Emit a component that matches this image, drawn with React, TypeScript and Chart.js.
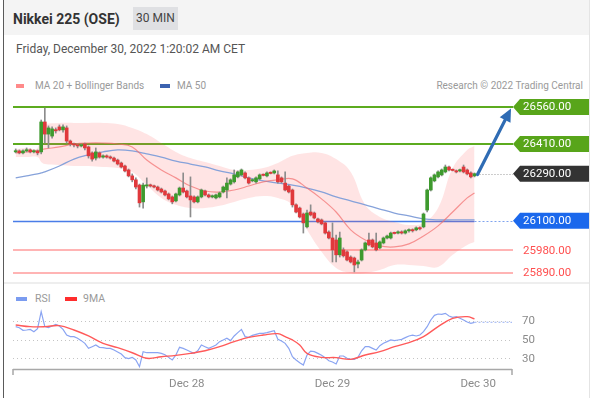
import React, { useEffect, useRef } from "react";
import { Chart, registerables } from "chart.js";
Chart.register(...registerables);

const FONT = "Roboto, 'Liberation Sans', Arial, sans-serif";

// ---- candles (30 min) ----
const opens = [
  26378, 26382, 26374, 26382, 26386, 26378, 26382, 26378, 26499, 26450,
  26442, 26467, 26479, 26467, 26475, 26422, 26410, 26406, 26402, 26410,
  26398, 26374, 26353, 26374, 26357, 26362, 26357, 26353, 26345, 26333,
  26321, 26305, 26281, 26265, 26244, 26176, 26240, 26244, 26240, 26236,
  26228, 26220, 26208, 26196, 26180, 26204, 26232, 26220, 26200, 26196,
  26176, 26196, 26220, 26204, 26196, 26192, 26196, 26216, 26224, 26248,
  26257, 26277, 26285, 26293, 26273, 26261, 26257, 26269, 26285, 26281,
  26293, 26293, 26285, 26273, 26252, 26240, 26224, 26164, 26151, 26127,
  26075, 26135, 26131, 26107, 26103, 26091, 26054, 26030, 26022, 25962,
  25982, 25974, 25953, 25949, 25925, 25941, 25982, 26022, 26022, 26010,
  25990, 26010, 26030, 26030, 26050, 26050, 26054, 26050, 26059, 26063,
  26063, 26071, 26075, 26143, 26224, 26261, 26277, 26285, 26297, 26317,
  26305, 26301, 26301, 26317, 26305, 26293, 26281,
];
const closes = [
  26382, 26374, 26382, 26386, 26378, 26382, 26374, 26499, 26450, 26475,
  26471, 26463, 26467, 26479, 26422, 26410, 26406, 26402, 26406, 26394,
  26362, 26349, 26378, 26357, 26362, 26357, 26353, 26341, 26329, 26317,
  26301, 26281, 26265, 26236, 26172, 26244, 26244, 26240, 26236, 26224,
  26216, 26204, 26188, 26176, 26208, 26232, 26216, 26196, 26184, 26176,
  26196, 26224, 26204, 26196, 26200, 26204, 26212, 26236, 26252, 26265,
  26285, 26297, 26305, 26273, 26252, 26265, 26273, 26285, 26283, 26293,
  26291, 26301, 26257, 26257, 26224, 26216, 26164, 26135, 26115, 26091,
  26131, 26123, 26111, 26095, 26087, 26050, 26030, 25982, 25962, 26030,
  25958, 25941, 25933, 25921, 25933, 25982, 26010, 26002, 25994, 25982,
  26014, 26030, 26038, 26050, 26048, 26054, 26050, 26059, 26063, 26059,
  26071, 26067, 26127, 26224, 26273, 26285, 26297, 26305, 26317, 26305,
  26303, 26297, 26305, 26297, 26289, 26277, 26290,
];
const highs = [
  26390, 26386, 26386, 26394, 26390, 26386, 26386, 26507, 26555, 26483,
  26479, 26475, 26487, 26487, 26483, 26426, 26414, 26410, 26410, 26414,
  26402, 26378, 26394, 26378, 26366, 26366, 26362, 26357, 26349, 26337,
  26325, 26309, 26289, 26273, 26248, 26252, 26273, 26248, 26244, 26240,
  26232, 26224, 26212, 26200, 26212, 26236, 26293, 26224, 26277, 26200,
  26200, 26228, 26224, 26208, 26204, 26208, 26216, 26240, 26273, 26269,
  26305, 26301, 26309, 26297, 26277, 26269, 26277, 26289, 26289, 26297,
  26297, 26305, 26301, 26277, 26297, 26244, 26228, 26168, 26155, 26131,
  26143, 26164, 26135, 26111, 26107, 26095, 26059, 26091, 26042, 26054,
  25990, 25978, 25958, 25953, 25941, 25986, 26014, 26050, 26026, 26050,
  26018, 26034, 26042, 26054, 26054, 26059, 26059, 26063, 26067, 26067,
  26075, 26075, 26131, 26228, 26277, 26289, 26301, 26309, 26325, 26321,
  26309, 26305, 26309, 26325, 26309, 26297, 26293,
];
const lows = [
  26374, 26370, 26370, 26378, 26374, 26374, 26366, 26370, 26414, 26394,
  26434, 26454, 26463, 26458, 26414, 26402, 26398, 26394, 26398, 26386,
  26353, 26341, 26345, 26353, 26353, 26353, 26349, 26337, 26325, 26313,
  26297, 26277, 26257, 26228, 26155, 26151, 26232, 26236, 26232, 26220,
  26212, 26200, 26184, 26168, 26176, 26200, 26212, 26192, 26115, 26172,
  26172, 26192, 26200, 26192, 26192, 26188, 26192, 26212, 26192, 26244,
  26252, 26273, 26281, 26269, 26248, 26257, 26252, 26265, 26281, 26277,
  26289, 26289, 26252, 26252, 26220, 26212, 26155, 26131, 26111, 26050,
  26071, 26119, 26107, 26091, 26083, 26046, 26026, 25933, 25933, 25953,
  25953, 25937, 25929, 25893, 25909, 25937, 25978, 25998, 25990, 25978,
  25986, 26006, 26026, 26026, 26046, 26046, 26046, 26046, 26054, 26054,
  26059, 26063, 26071, 26135, 26220, 26257, 26273, 26281, 26293, 26301,
  26301, 26293, 26297, 26293, 26285, 26273, 26277,
];

// ---- indicators (sampled at candle indices) ----
const bandIdx = [0, 3, 6, 7, 8, 12, 16, 20, 24, 28, 32, 36, 40, 44, 48, 52, 56, 60, 64, 68, 72, 76, 80, 84, 88, 92, 96, 100, 104, 108, 112, 116, 120, 124, 126];
const bbUpper = [26390, 26394, 26394, 26487, 26491, 26495, 26495, 26495, 26495, 26491, 26475, 26450, 26414, 26378, 26353, 26337, 26321, 26305, 26305, 26313, 26333, 26362, 26374, 26374, 26349, 26297, 26164, 26115, 26095, 26083, 26091, 26151, 26313, 26386, 26402];
const bbLower = [26357, 26357, 26357, 26337, 26329, 26325, 26321, 26321, 26317, 26313, 26297, 26244, 26192, 26164, 26151, 26151, 26160, 26176, 26192, 26200, 26192, 26164, 26063, 25974, 25909, 25889, 25889, 25901, 25921, 25921, 25917, 25913, 25962, 26002, 26014];
const ma20 = [26374, 26378, 26382, 26386, 26390, 26398, 26410, 26414, 26414, 26410, 26398, 26345, 26305, 26273, 26240, 26220, 26216, 26224, 26240, 26257, 26265, 26269, 26232, 26188, 26135, 26063, 26022, 25998, 25994, 26006, 26038, 26079, 26135, 26192, 26212];
const ma50 = [26273, 26281, 26289, 26293, 26297, 26321, 26349, 26366, 26378, 26386, 26382, 26370, 26357, 26341, 26329, 26317, 26301, 26289, 26273, 26261, 26252, 26244, 26232, 26216, 26196, 26180, 26164, 26147, 26131, 26119, 26107, 26103, 26103, 26103, 26103];

// ---- RSI ----
const rsi = [
  63.9, 62.8, 60, 60.3, 61, 58.5, 61.8, 80, 64, 62.8,
  64.6, 66.4, 64.6, 61, 54.9, 53.2, 53.2, 51.4, 48.9, 46,
  40.6, 42.4, 44.2, 41.7, 41.3, 40.6, 40.6, 38.8, 36.7, 34.5,
  30.6, 29.5, 30.9, 28.1, 20.9, 37, 35.9, 35.9, 35.9, 35.9,
  35.2, 33.8, 30.9, 28.1, 33.4, 41.7, 40.6, 38.8, 37, 35.2,
  38, 44.2, 42.4, 40.6, 42.4, 44.2, 47.8, 49.6, 51.4, 48.9,
  53.9, 57.5, 61, 53.2, 52.4, 54.6, 55.7, 56.7, 56.7, 57.5,
  58.5, 59.6, 50.3, 48.5, 46, 40.6, 31.6, 28.1, 25.2, 22.7,
  33.4, 37.7, 37, 35.2, 33.1, 30.6, 27.3, 25.9, 23.8, 32.4,
  32.4, 29.9, 28.8, 28.8, 30.9, 38, 42.4, 42.4, 40.6, 38.8,
  43.5, 46, 47.8, 49.6, 48.9, 49.6, 50.3, 52.1, 53.9, 54.9,
  53.9, 54.9, 58.5, 63.9, 71.1, 76.1, 77.5, 77.2, 78.2, 75.4,
  73.9, 74.7, 72.9, 71.1, 68.9, 67.5, 68.6,
];
const rsiMaIdx = [0, 4, 8, 12, 16, 20, 24, 28, 32, 36, 40, 44, 48, 52, 56, 60, 64, 68, 72, 74, 76, 78, 80, 84, 88, 92, 96, 100, 104, 108, 112, 116, 120, 124, 126];
const rsiMa = [65.7, 63.9, 63.9, 65, 60.3, 53.9, 46, 41.3, 35.9, 29.9, 31.6, 33.1, 35.2, 38, 42.4, 47.8, 52.4, 54.9, 56.4, 53.2, 49.6, 44.2, 35.2, 30.9, 30.6, 28.8, 33.4, 37, 42.4, 46.7, 53.2, 63.9, 72.9, 74.7, 72.2];

// ---- levels & ticks ----
const resistanceLevels = [26560, 26410];
const pivotLevel = 26100;
const supportLevels = [25980, 25890];
const lastPrice = 26290;
const targetLevel = 26560;
const dayTickIdx = [47, 87, 127];
const dayTickLabels = ["Dec 28", "Dec 29", "Dec 30"];
const rsiTicks = [70, 50, 30];

const X_MIN = -0.74;
const X_MAX = 136.3;
const GREEN = "#3e9a2e";
const RED = "#e0393c";

function drawTag(ctx: CanvasRenderingContext2D, x0: number, x1: number, yc: number, bg: string, text: string) {
  const h = 16, p = 7;
  ctx.beginPath();
  ctx.moveTo(x0, yc);
  ctx.lineTo(x0 + p, yc - h / 2);
  ctx.lineTo(x1, yc - h / 2);
  ctx.lineTo(x1, yc + h / 2);
  ctx.lineTo(x0 + p, yc + h / 2);
  ctx.closePath();
  ctx.fillStyle = bg;
  ctx.fill();
  ctx.fillStyle = "#ffffff";
  ctx.font = `11.5px ${FONT}`;
  ctx.textBaseline = "middle";
  ctx.textAlign = "left";
  ctx.fillText(text, x0 + 10, yc + 0.5);
}

function hLine(ctx: CanvasRenderingContext2D, x0: number, x1: number, y: number, color: string, w: number, dash: number[] = []) {
  ctx.beginPath();
  ctx.setLineDash(dash);
  ctx.strokeStyle = color;
  ctx.lineWidth = w;
  ctx.moveTo(x0, y);
  ctx.lineTo(x1, y);
  ctx.stroke();
  ctx.setLineDash([]);
}

const mainPlugin = {
  id: "mainDecor",
  beforeDatasetsDraw(chart: any) {
    const { ctx, chartArea, scales } = chart;
    const { left, right } = chartArea;
    const x = scales.x, y = scales.y;
    const lastX = x.getPixelForValue(opens.length - 1);
    ctx.save();
    resistanceLevels.forEach((v) => hLine(ctx, left, right + 1, Math.round(y.getPixelForValue(v)), "#5cab1f", 2));
    supportLevels.forEach((v) => hLine(ctx, left, right + 1, Math.round(y.getPixelForValue(v)), "#ffb4b4", 2));
    const py = Math.round(y.getPixelForValue(pivotLevel)) + 0.5;
    hLine(ctx, left, lastX, py, "#4a7de8", 1.5);
    hLine(ctx, lastX, right + 1, py, "#7fa3ee", 1, [2, 2]);
    ctx.restore();
  },
  afterDatasetsDraw(chart: any) {
    const { ctx, chartArea, scales, width } = chart;
    const { right } = chartArea;
    const x = scales.x, y = scales.y;
    const x0 = right + 1, x1 = width - 5;
    const lastX = x.getPixelForValue(opens.length - 1);
    const ly = Math.round(y.getPixelForValue(lastPrice)) + 0.5;
    ctx.save();
    hLine(ctx, lastX + 2, x0, ly, "#9a9a9a", 1, [1, 2]);
    // arrow
    const sx = lastX + 3, sy = ly;
    const tx = right - 1, ty = y.getPixelForValue(targetLevel) + 1.5;
    const ang = Math.atan2(ty - sy, tx - sx);
    const hl = 13, hw = 6;
    const bx = tx - hl * Math.cos(ang), by = ty - hl * Math.sin(ang);
    ctx.strokeStyle = "#2f6cb4";
    ctx.fillStyle = "#2f6cb4";
    ctx.lineWidth = 3.2;
    ctx.lineCap = "round";
    ctx.beginPath();
    ctx.moveTo(sx, sy);
    ctx.lineTo(bx, by);
    ctx.stroke();
    ctx.beginPath();
    ctx.moveTo(tx, ty);
    ctx.lineTo(bx + hw * Math.sin(ang), by - hw * Math.cos(ang));
    ctx.lineTo(bx - hw * Math.sin(ang), by + hw * Math.cos(ang));
    ctx.closePath();
    ctx.fill();
    // tags
    resistanceLevels.forEach((v) => drawTag(ctx, x0, x1, y.getPixelForValue(v), "#58a51a", v.toFixed(2)));
    drawTag(ctx, x0, x1, y.getPixelForValue(lastPrice), "#333333", lastPrice.toFixed(2));
    drawTag(ctx, x0, x1, y.getPixelForValue(pivotLevel), "#1b68ec", pivotLevel.toFixed(2));
    ctx.fillStyle = "#ff4f4f";
    ctx.font = `11.5px ${FONT}`;
    ctx.textBaseline = "middle";
    supportLevels.forEach((v) => ctx.fillText(v.toFixed(2), x0 + 10, y.getPixelForValue(v) + 0.5));
    ctx.restore();
  },
};

const rsiPlugin = {
  id: "rsiDecor",
  beforeDatasetsDraw(chart: any) {
    const { ctx, chartArea, scales } = chart;
    const { left, right, bottom } = chartArea;
    const x = scales.x, y = scales.y;
    ctx.save();
    rsiTicks.forEach((t) => hLine(ctx, left, right, Math.round(y.getPixelForValue(t)) + 0.5, "#c4c4c4", 1, [1, 3]));
    // axis
    hLine(ctx, left, right, bottom + 0.5, "#a8a8a8", 1.5);
    ctx.strokeStyle = "#a8a8a8";
    ctx.lineWidth = 1.5;
    ctx.beginPath();
    ctx.moveTo(left, bottom);
    ctx.lineTo(left, bottom + 6);
    ctx.moveTo(right, bottom);
    ctx.lineTo(right, bottom + 6);
    ctx.stroke();
    ctx.fillStyle = "#8a8a8a";
    ctx.font = `11.5px ${FONT}`;
    ctx.textBaseline = "middle";
    ctx.textAlign = "left";
    rsiTicks.forEach((t) => ctx.fillText(String(t), right + 10, y.getPixelForValue(t) + 0.5));
    ctx.textAlign = "center";
    dayTickIdx.forEach((d, k) => ctx.fillText(dayTickLabels[k], x.getPixelForValue(d), bottom + 15));
    ctx.restore();
  },
};

export default function App() {
  const mainRef = useRef<HTMLCanvasElement>(null);
  const rsiRef = useRef<HTMLCanvasElement>(null);

  useEffect(() => {
    const idx = opens.map((_, i) => i);
    const main = new Chart(mainRef.current as HTMLCanvasElement, {
      type: "bar",
      data: {
        datasets: [
          { type: "line", label: "BB upper", data: bandIdx.map((v, k) => ({ x: v, y: bbUpper[k] })), borderWidth: 0, borderColor: "rgba(0,0,0,0)", pointRadius: 0, fill: false, tension: 0.4, order: 10 } as any,
          { type: "line", label: "BB lower", data: bandIdx.map((v, k) => ({ x: v, y: bbLower[k] })), borderWidth: 0, borderColor: "rgba(0,0,0,0)", pointRadius: 0, fill: "-1", backgroundColor: "rgba(255,90,90,0.16)", tension: 0.4, order: 9 } as any,
          { type: "line", label: "MA 50", data: bandIdx.map((v, k) => ({ x: v, y: ma50[k] })), borderColor: "#86a2da", borderWidth: 1.3, pointRadius: 0, tension: 0.4, order: 8 } as any,
          { type: "line", label: "MA 20", data: bandIdx.map((v, k) => ({ x: v, y: ma20[k] })), borderColor: "rgba(242,110,110,0.7)", borderWidth: 1.2, pointRadius: 0, tension: 0.4, order: 7 } as any,
          { type: "bar", label: "wicks", data: idx.map((i) => ({ x: i, y: [lows[i], highs[i]] })), backgroundColor: "#8c8c8c", barThickness: 1, grouped: false, order: 3 } as any,
          { type: "bar", label: "bodies", data: idx.map((i) => ({ x: i, y: [opens[i], closes[i]] })), backgroundColor: idx.map((i) => (closes[i] >= opens[i] ? GREEN : RED)), barThickness: 3, minBarLength: 1.2, grouped: false, order: 1 } as any,
        ],
      },
      options: {
        animation: false,
        responsive: false,
        maintainAspectRatio: false,
        events: [],
        layout: { padding: { left: 13, right: 82, top: 0, bottom: 0 } },
        plugins: { legend: { display: false }, tooltip: { enabled: false } },
        scales: {
          x: { type: "linear", min: X_MIN, max: X_MAX, offset: false, display: false },
          y: { type: "linear", min: 25840, max: 26608, display: false },
        },
      } as any,
      plugins: [mainPlugin],
    });

    const lastIdx = rsi.length - 1;
    const rsiChart = new Chart(rsiRef.current as HTMLCanvasElement, {
      type: "line",
      data: {
        datasets: [
          { label: "RSI ext", data: [{ x: lastIdx, y: rsi[lastIdx] }, { x: X_MAX, y: rsi[lastIdx] }], borderColor: "#a9bdf5", borderWidth: 1.2, borderDash: [2, 2], pointRadius: 0, order: 3 },
          { label: "RSI", data: rsi.map((v, i) => ({ x: i, y: v })), borderColor: "#8aa4f2", borderWidth: 1.2, pointRadius: 0, tension: 0, order: 2 },
          { label: "9MA", data: rsiMaIdx.map((v, k) => ({ x: v, y: rsiMa[k] })), borderColor: "#ff5a5a", borderWidth: 1.4, pointRadius: 0, tension: 0.4, order: 1 },
        ] as any,
      },
      options: {
        animation: false,
        responsive: false,
        maintainAspectRatio: false,
        events: [],
        layout: { padding: { left: 13, right: 82, top: 20, bottom: 29 } },
        plugins: { legend: { display: false }, tooltip: { enabled: false } },
        scales: {
          x: { type: "linear", min: X_MIN, max: X_MAX, display: false },
          y: { type: "linear", min: 18.4, max: 87.2, display: false },
        },
      } as any,
      plugins: [rsiPlugin],
    });

    return () => {
      main.destroy();
      rsiChart.destroy();
    };
  }, []);

  const legendText: React.CSSProperties = { position: "absolute", fontSize: 10, color: "#9a9a9a", lineHeight: "12px", whiteSpace: "nowrap" };
  const swatch = (left: number, top: number, w: number, color: string): React.CSSProperties => ({ position: "absolute", left, top, width: w, height: 4, background: color });

  return (
    <div style={{ position: "absolute", left: 0, top: 0, width: 594, height: 398, background: "#fff", fontFamily: FONT, overflow: "hidden" }}>
      <div style={{ position: "absolute", left: 4, top: 0, width: 585, height: 35, background: "#f4f4f4" }} />
      <div style={{ position: "absolute", left: 3, top: 0, width: 1, height: 398, background: "#5a5a5a" }} />
      <div style={{ position: "absolute", left: 589, top: 0, width: 1, height: 398, background: "#e4e4e4" }} />
      <div style={{ position: "absolute", left: 13, top: 12, fontSize: 14, fontWeight: 700, color: "#333", lineHeight: "14px", whiteSpace: "nowrap" }}>Nikkei 225 (OSE)</div>
      <div style={{ position: "absolute", left: 133, top: 7, width: 45, height: 23, background: "#dfe0e3", fontSize: 12, color: "#444", lineHeight: "23px", textAlign: "center", whiteSpace: "nowrap" }}>30 MIN</div>
      <div style={{ position: "absolute", left: 16, top: 42, fontSize: 12, color: "#555", lineHeight: "14px", whiteSpace: "nowrap" }}>Friday, December 30, 2022 1:20:02 AM CET</div>

      <div style={swatch(16, 84, 8, "#ff8a8a")} />
      <div style={{ ...legendText, left: 35, top: 80 }}>MA 20 + Bollinger Bands</div>
      <div style={swatch(160, 84, 10, "#3c63b0")} />
      <div style={{ ...legendText, left: 177, top: 80 }}>MA 50</div>
      <div style={{ ...legendText, right: 594 - 583, top: 80 }}>Research © 2022 Trading Central</div>

      <div style={{ position: "absolute", left: 4, top: 282, width: 585, height: 2, background: "#eeeeee" }} />

      <div style={swatch(16, 297, 11, "#7b9cf0")} />
      <div style={{ ...legendText, left: 35, top: 293, fontSize: 10.5 }}>RSI</div>
      <div style={swatch(65, 297, 12, "#ff2d2d")} />
      <div style={{ ...legendText, left: 83, top: 293, fontSize: 10.5 }}>9MA</div>

      <canvas ref={mainRef} width={594} height={190} style={{ position: "absolute", left: 0, top: 95 }} />
      <canvas ref={rsiRef} width={594} height={113} style={{ position: "absolute", left: 0, top: 285 }} />
    </div>
  );
}
